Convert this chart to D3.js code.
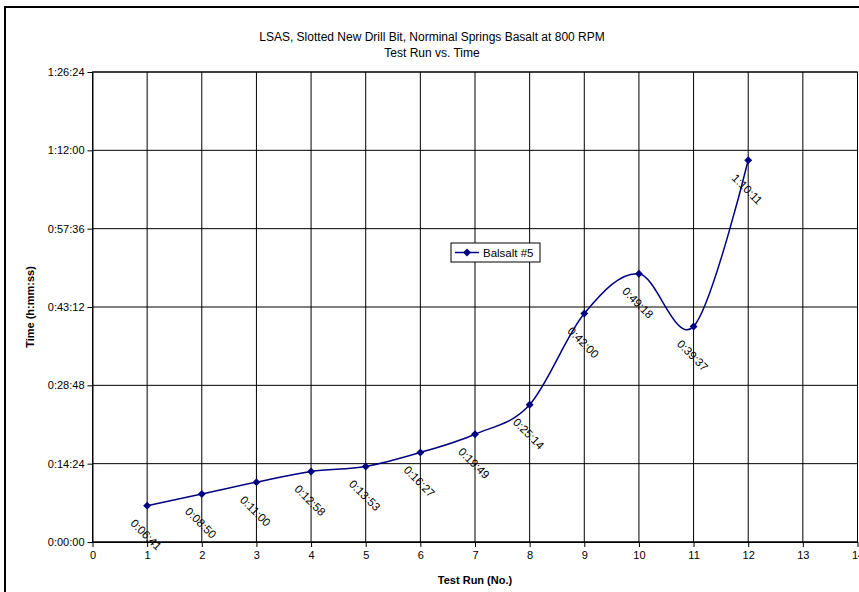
<!DOCTYPE html>
<html><head><meta charset="utf-8">
<script src="https://cdn.jsdelivr.net/npm/d3@7"></script>
<style>body{margin:0;background:#fff}svg{display:block}text{font-family:"Liberation Sans",Arial,sans-serif}</style>
</head><body>
<script>
const runs = [1,2,3,4,5,6,7,8,9,10,11,12];
const timeLabels = ["0:06:41","0:08:50","0:11:00","0:12:58","0:13:53","0:16:27","0:19:49","0:25:14","0:42:00","0:49:18","0:39:37","1:10:11"];
const yTickLabels = ["0:00:00","0:14:24","0:28:48","0:43:12","0:57:36","1:12:00","1:26:24"];
const xTicks = [0,1,2,3,4,5,6,7,8,9,10,11,12,13,14];
const seriesName = "Balsalt #5";
const toSec = s => s.split(":").map(Number).reduce((a,v)=>a*60+v,0);
const values = timeLabels.map(toSec);
const yTicks = yTickLabels.map(toSec);

const W=859,H=592;
const m={l:92.5,r:857.5,t:72,b:542};
const svg=d3.select("body").append("svg").attr("width",W).attr("height",H);
svg.append("rect").attr("x",5).attr("y",7).attr("width",W+10).attr("height",H+10).attr("fill","#fff").attr("stroke","#000").attr("stroke-width",2);

const x=d3.scaleLinear().domain([0,14]).range([m.l,m.r]);
const y=d3.scaleLinear().domain([0,5184]).range([m.b,m.t]);

svg.append("g").selectAll("line").data(xTicks).join("line")
 .attr("x1",d=>x(d)).attr("x2",d=>x(d)).attr("y1",m.t).attr("y2",m.b).attr("stroke","#000").attr("stroke-width",1);
svg.append("g").selectAll("line").data(yTicks).join("line")
 .attr("x1",m.l).attr("x2",m.r).attr("y1",d=>y(d)).attr("y2",d=>y(d)).attr("stroke","#000").attr("stroke-width",1);
svg.append("rect").attr("x",m.l).attr("y",m.t).attr("width",m.r-m.l).attr("height",m.b-m.t).attr("fill","none").attr("stroke","#000");

const xa=svg.append("g").attr("transform",`translate(0,${m.b})`)
 .call(d3.axisBottom(x).tickValues(xTicks).tickFormat(d3.format("d")).tickSize(5).tickSizeOuter(0));
const ya=svg.append("g").attr("transform",`translate(${m.l},0)`)
 .call(d3.axisLeft(y).tickValues(yTicks).tickFormat((d,i)=>yTickLabels[i]).tickSize(5).tickSizeOuter(0));
[xa,ya].forEach(a=>{a.select(".domain").attr("stroke","#000");a.selectAll("line").attr("stroke","#000");
 a.selectAll("text").attr("font-size",11).attr("font-family","Liberation Sans, Arial").attr("fill","#000");});
xa.selectAll("text").attr("dy","0.85em");

const data=runs.map((r,i)=>({x:r,v:values[i],l:timeLabels[i]}));
const line=d3.line().x(d=>x(d.x)).y(d=>y(d.v)).curve(d3.curveCardinal.tension(0));
svg.append("path").datum(data).attr("d",line).attr("fill","none").attr("stroke","#000080").attr("stroke-width",1.5);
const diamond=d3.symbol().type(d3.symbolDiamond2).size(40);
svg.append("g").selectAll("path").data(data).join("path")
 .attr("d",diamond).attr("transform",d=>`translate(${x(d.x)},${y(d.v)})`).attr("fill","#000080");
svg.append("g").selectAll("text").data(data).join("text")
 .attr("transform",d=>`translate(${x(d.x)-1},${y(d.v)+29}) rotate(45)`)
 .attr("text-anchor","middle").attr("dy","0.35em").attr("font-size",11.5).attr("fill","#000").text(d=>d.l);

svg.append("text").attr("x",432).attr("y",41).attr("text-anchor","middle").attr("font-size",12).text("LSAS, Slotted New Drill Bit, Norminal Springs Basalt at 800 RPM");
svg.append("text").attr("x",432).attr("y",57).attr("text-anchor","middle").attr("font-size",12).text("Test Run vs. Time");
svg.append("text").attr("x",475).attr("y",584).attr("text-anchor","middle").attr("font-size",11).attr("font-weight","bold").text("Test Run (No.)");
svg.append("text").attr("transform","translate(34,307) rotate(-90)").attr("text-anchor","middle").attr("font-size",11).attr("font-weight","bold").text("Time (h:mm:ss)");

const lg=svg.append("g").attr("transform","translate(451,243)");
lg.append("rect").attr("width",89).attr("height",19).attr("fill","#fff").attr("stroke","#000");
lg.append("line").attr("x1",4).attr("x2",28).attr("y1",9.5).attr("y2",9.5).attr("stroke","#000080").attr("stroke-width",1.5);
lg.append("path").attr("d",diamond).attr("transform","translate(16,9.5)").attr("fill","#000080");
lg.append("text").attr("x",32).attr("y",13.5).attr("font-size",11.5).text(seriesName);
</script>
</body></html>
